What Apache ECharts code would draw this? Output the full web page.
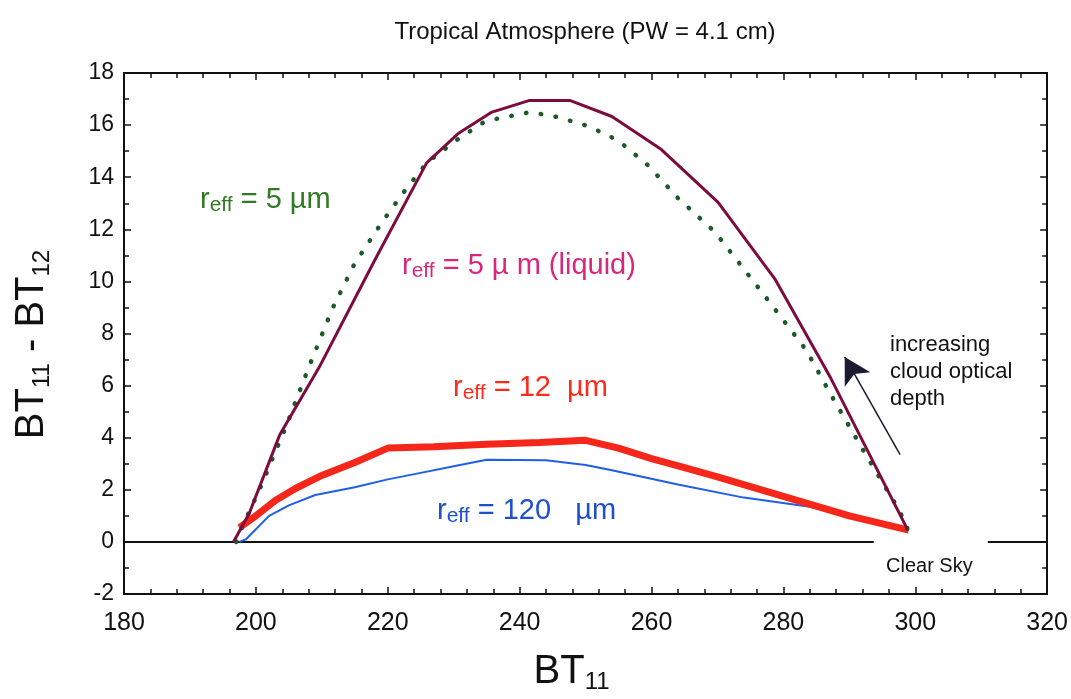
<!DOCTYPE html>
<html>
<head>
<meta charset="utf-8">
<script src="https://cdn.jsdelivr.net/npm/echarts@6/dist/echarts.min.js"></script>
<style>
  html, body { margin: 0; padding: 0; background: #fff; }
  #chart { width: 1071px; height: 699px; }
</style>
</head>
<body>
<div id="chart"></div>
<script>
// BT11 vs BT11-BT12
const ice5 = [[197,0],[197.8,0.5],[200.8,2.15],[204.6,4.45],[208.1,6.75],[211.6,8.95],[214.9,10.65],
  [219.2,12.3],[222.5,13.45],[225.9,14.55],[230.3,15.4],[234.8,16.15],[241.6,16.5],[245.9,16.3],
  [250.5,15.95],[255,15.4],[259.5,14.45],[264,13.2],[269.6,11.9],[276.7,9.6],[283.5,7.35],
  [287.2,5.65],[292.5,3.35],[297.6,1.2],[298.8,0.5]]
const liquid5 = [[196.6,0],[199,1.1],[203.6,4.1],[209.6,6.7],[218.2,10.9],[225.9,14.55],[230.8,15.7],
  [235.8,16.5],[241.4,16.94],[247.7,16.94],[254,16.33],[261.5,15.06],[270.1,13.03],[278.7,10.1],
  [287.2,6.28],[298.8,0.49]]
const ice12 = [[197.5,0.55],[200,1.0],[203,1.6],[206,2.05],[210,2.55],[215,3.05],[220,3.6],[227,3.65],
  [235,3.75],[243,3.82],[250,3.9],[255,3.6],[260,3.2],[265,2.85],[270,2.5],[280,1.75],[290,1.0],[299,0.45]]
const ice120 = [[197.5,0],[198.5,0.1],[202,1.0],[205,1.4],[209,1.8],[215,2.1],[220,2.4],[225,2.65],
  [230,2.9],[235,3.15],[244,3.13],[250,2.95],[254,2.75],[264,2.2],[274,1.7],[284,1.35],[289,1.07],[299,0.45]]
const zeroLeft = [[180,0],[293.7,0]]
const zeroRight = [[311,0],[320,0]]
const arrowFrom = [297.7,3.35]
const arrowTo = [289.3,7.1]

const FONT = 'Liberation Sans, Arial, sans-serif'

const chart = echarts.init(document.getElementById('chart'))

/* 带下标的文字 */
function subLabel(color, size, subSize){
  return {
    m:{fontSize:size,fill:color,fontFamily:FONT,lineHeight:size+4},
    s:{fontSize:subSize,fill:color,fontFamily:FONT,lineHeight:subSize-4,verticalAlign:'bottom'}
  }
}
const nameRich = {
  b:{fontSize:40,color:'#111',fontFamily:FONT,lineHeight:44},
  s:{fontSize:24,color:'#111',fontFamily:FONT,lineHeight:18,verticalAlign:'bottom'}
}
const tickLine = {color:'#111',width:1.5}

const option = {
  animation:false,
  backgroundColor:'#fff',
  title:{
    text:'Tropical Atmosphere (PW = 4.1 cm)',
    left:580, top:15, textAlign:'center',
    textStyle:{fontSize:24,fontWeight:'normal',color:'#111',fontFamily:FONT}
  },
  grid:{left:124,right:21,top:73,bottom:102,containLabel:false},
  xAxis:[{
    type:'value',min:180,max:320,interval:20,
    name:'{b|BT}{s|11}',nameLocation:'middle',nameGap:56,
    nameTextStyle:{rich:nameRich,padding:[0,28,0,0]},
    axisLine:{onZero:false,lineStyle:{color:'#111',width:2}},
    axisTick:{inside:true,length:7,lineStyle:tickLine},
    minorTick:{show:true,splitNumber:5,length:5,lineStyle:tickLine},
    axisLabel:{fontSize:25,color:'#111',fontFamily:FONT,margin:17},
    splitLine:{show:false}
  },{
    type:'value',position:'top',min:180,max:320,interval:20,
    axisLine:{onZero:false,lineStyle:{color:'#111',width:2}},
    axisTick:{inside:true,length:7,lineStyle:tickLine},
    minorTick:{show:true,splitNumber:5,length:5,lineStyle:tickLine},
    axisLabel:{show:false},splitLine:{show:false}
  }],
  yAxis:[{
    type:'value',min:-2,max:18,interval:2,
    name:'{b|BT}{s|11}{b| - BT}{s|12}',nameLocation:'middle',nameGap:70,nameRotate:90,
    nameTextStyle:{rich:nameRich,padding:[0,22,0,0]},
    axisLine:{onZero:false,lineStyle:{color:'#111',width:2}},
    axisTick:{inside:true,length:7,lineStyle:tickLine},
    minorTick:{show:true,splitNumber:2,length:5,lineStyle:tickLine},
    axisLabel:{fontSize:23,color:'#111',fontFamily:FONT,margin:10},
    splitLine:{show:false}
  },{
    type:'value',position:'right',min:-2,max:18,interval:2,
    axisLine:{onZero:false,lineStyle:{color:'#111',width:2}},
    axisTick:{inside:true,length:7,lineStyle:tickLine},
    minorTick:{show:true,splitNumber:2,length:5,lineStyle:tickLine},
    axisLabel:{show:false},splitLine:{show:false}
  }],
  series:[
    {
      type:'line',data:zeroLeft,symbol:'none',
      lineStyle:{color:'#111',width:2},
      markLine:{
        silent:true,symbol:['none','arrow'],symbolSize:[22,26],
        label:{show:false},
        lineStyle:{color:'#1a1a30',width:1.5,type:'solid'},
        data:[[{coord:arrowFrom},{coord:arrowTo}]]
      }
    },
    {type:'line',data:zeroRight,symbol:'none',lineStyle:{color:'#111',width:2}},
    {
      type:'line',data:ice120,symbol:'none',
      lineStyle:{color:'#1f5ee6',width:2}
    },
    {
      type:'line',data:ice12,symbol:'none',
      lineStyle:{color:'#f5261a',width:7}
    },
    {
      type:'line',data:ice5,symbol:'none',
      lineStyle:{color:'#1d5a2a',width:4.5,type:[0.5,14.5],cap:'round'}
    },
    {
      type:'line',data:liquid5,symbol:'none',
      lineStyle:{color:'#7d0c3e',width:3}
    }
  ],
  graphic:[
    {type:'text',left:200,top:185,style:{text:'{m|r}{s|eff}{m| = 5 µm}',rich:subLabel('#2f7a22',29,21)}},
    {type:'text',left:402,top:251,style:{text:'{m|r}{s|eff}{m| = 5 µ m (liquid)}',rich:subLabel('#d8287c',29,21)}},
    {type:'text',left:453,top:373,style:{text:'{m|r}{s|eff}{m| = 12  µm}',rich:subLabel('#ff2a1a',29,21)}},
    {type:'text',left:437,top:496,style:{text:'{m|r}{s|eff}{m| = 120   µm}',rich:subLabel('#1c4fd2',29,21)}},
    {type:'text',left:890,top:331,style:{text:'increasing\ncloud optical\ndepth',fontSize:22,lineHeight:27,fill:'#111',fontFamily:FONT}},
    {type:'text',left:886,top:556,style:{text:'Clear Sky',fontSize:20,fill:'#111',fontFamily:FONT}}
  ]
}
chart.setOption(option)
</script>
</body>
</html>
